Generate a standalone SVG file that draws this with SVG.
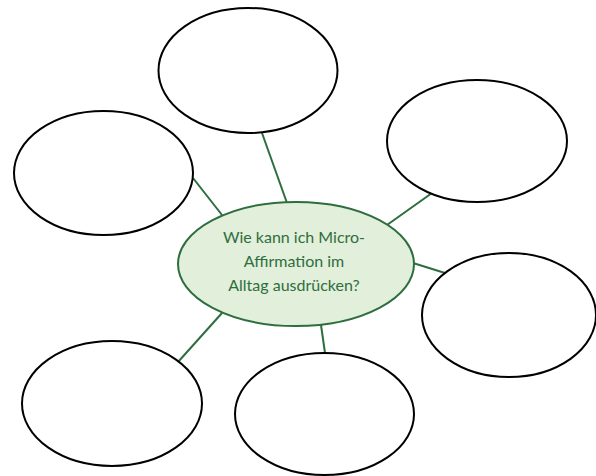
<svg xmlns="http://www.w3.org/2000/svg" width="596" height="476" viewBox="0 0 596 476">
<style>
.bub{fill:#fff;stroke:#000;stroke-width:2}
.core{fill:#E2EFDA;stroke:#2E6E3E;stroke-width:2}
.con{stroke:#2E6E3E;stroke-width:2;fill:none}
.lbl{font-family:Lato,"Liberation Sans",sans-serif;font-size:16px;fill:#2E6E3E;text-anchor:middle}
</style>
<rect width="596" height="476" fill="#fff"/>
<g id="connectors">
<line class="con" x1="262" y1="133" x2="287" y2="203"/>
<line class="con" x1="193" y1="178" x2="222" y2="215"/>
<line class="con" x1="432" y1="193" x2="387" y2="225"/>
<line class="con" x1="413" y1="263" x2="445" y2="273"/>
<line class="con" x1="178" y1="362" x2="222" y2="313"/>
<line class="con" x1="325" y1="353" x2="321" y2="325"/>
</g>
<g id="node-top"><ellipse class="bub" cx="248" cy="70.5" rx="89.5" ry="62.5"/></g>
<g id="node-left"><ellipse class="bub" cx="103.5" cy="173" rx="89.5" ry="62"/></g>
<g id="node-top-right"><ellipse class="bub" cx="477" cy="141" rx="90" ry="61"/></g>
<g id="node-right"><ellipse class="bub" cx="509" cy="315" rx="87" ry="62"/></g>
<g id="node-bottom-left"><ellipse class="bub" cx="112" cy="403.5" rx="90" ry="62.5"/></g>
<g id="node-bottom"><ellipse class="bub" cx="324.5" cy="414" rx="89.5" ry="61"/></g>
<g id="node-center">
<ellipse class="core" cx="296" cy="264" rx="118" ry="62"/>
<text class="lbl" x="294" y="243">Wie kann ich Micro-</text>
<text class="lbl" x="294" y="267">Affirmation im</text>
<text class="lbl" x="294" y="291">Alltag ausdrücken?</text>
</g>
</svg>
